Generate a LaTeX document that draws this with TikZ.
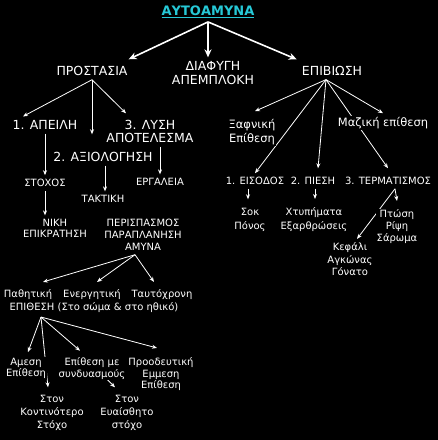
\documentclass[tikz,border=0pt]{standalone}
\usepackage{fontspec}
\setmainfont{DejaVu Sans}
\usepackage{xcolor}
\usetikzlibrary{arrows.meta,backgrounds}
\definecolor{titlecyan}{RGB}{38,200,214}

\begin{document}
\begin{tikzpicture}[
    x=1pt, y=-1pt,
    lbl/.style={text=white, fill=black, inner sep=1pt, outer ysep=3pt, align=center},
    toplbl/.style={lbl, font=\fontsize{13}{15}\selectfont\bfseries, text=titlecyan},
    headlbl/.style={lbl, font=\fontsize{12.5}{14}\selectfont},
    midlbl/.style={lbl, font=\fontsize{11.5}{14}\selectfont},
    leaflbl/.style={lbl, font=\fontsize{10}{12.5}\selectfont},
    link/.style={white, line width=0.8pt, -{Stealth[length=5pt,width=4pt]}},
    biglink/.style={white, line width=1.6pt, -{Stealth[length=8pt,width=7pt]}}
]
    \useasboundingbox (0,0) rectangle (438,440);

    % Title
    \node[toplbl] (root) at (208,12) {\underline{ΑΥΤΟΑΜΥΝΑ}};

    % First level
    \node[headlbl] (prot) at (92,71) {ΠΡΟΣΤΑΣΙΑ};
    \node[headlbl] (diaf) at (213,73) {ΔΙΑΦΥΓΗ\\ΑΠΕΜΠΛΟΚΗ};
    \node[headlbl] (epib) at (332,71) {ΕΠΙΒΙΩΣΗ};

    % Protection branch
    \node[headlbl] (apeili) at (45,125) {1. ΑΠΕΙΛΗ};
    \node[headlbl] (axiol) at (103,157) {2. ΑΞΙΟΛΟΓΗΣΗ};
    \node[headlbl, font=\fontsize{12.5}{13}\selectfont] (lysi) at (150,131.5) {3. ΛΥΣΗ\\ΑΠΟΤΕΛΕΣΜΑ};
    \node[leaflbl] (stoxos) at (45,183) {ΣΤΟΧΟΣ};
    \node[leaflbl, font=\fontsize{10}{11}\selectfont] (niki) at (55,228.5) {ΝΙΚΗ\\ΕΠΙΚΡΑΤΗΣΗ};
    \node[leaflbl] (taktiki) at (103,199) {ΤΑΚΤΙΚΗ};
    \node[leaflbl] (ergal) at (160,182) {ΕΡΓΑΛΕΙΑ};
    \node[leaflbl, font=\fontsize{10}{12}\selectfont] (perisp) at (143,235) {ΠΕΡΙΣΠΑΣΜΟΣ\\ΠΑΡΑΠΛΑΝΗΣΗ\\ΑΜΥΝΑ};
    \node[leaflbl] (pathit) at (28,295) {Παθητική};
    \node[leaflbl] (energ) at (92,295) {Ενεργητική};
    \node[leaflbl] (tafto) at (162,295) {Ταυτόχρονη};
    \node[leaflbl] (epith) at (94,308) {ΕΠΙΘΕΣΗ (Στο σώμα \& στο ηθικό)};
    \node[leaflbl, font=\fontsize{10}{11.5}\selectfont] (amesi) at (26,368.5) {Αμεση\\Επίθεση};
    \node[leaflbl, font=\fontsize{10}{11.5}\selectfont] (syndy) at (92,368.5) {Επίθεση με\\συνδυασμούς};
    \node[leaflbl, font=\fontsize{10}{11.5}\selectfont] (proodeft) at (161,374.5) {Προοδευτική\\Εμμεση\\Επίθεση};
    \node[leaflbl, font=\fontsize{10}{13}\selectfont] (kontin) at (52,413) {Στον\\Κοντινότερο\\Στόχο};
    \node[leaflbl, font=\fontsize{10}{13}\selectfont] (evaisth) at (127,413) {Στον\\Ευαίσθητο\\στόχο};

    % Survival branch
    \node[midlbl] (xafn) at (252,132) {Ξαφνική\\Επίθεση};
    \node[midlbl] (maz) at (383,123) {Μαζική επίθεση};
    \node[leaflbl] (eisod) at (255,181) {1. ΕΙΣΟΔΟΣ};
    \node[leaflbl] (piesi) at (313,181) {2. ΠΙΕΣΗ};
    \node[leaflbl] (term) at (388,181) {3. ΤΕΡΜΑΤΙΣΜΟΣ};
    \node[leaflbl, font=\fontsize{10}{14}\selectfont] (sok) at (250,220) {Σοκ\\Πόνος};
    \node[leaflbl, font=\fontsize{10}{14}\selectfont] (xtyp) at (314,220) {Χτυπήματα\\Εξαρθρώσεις};
    \node[leaflbl, font=\fontsize{10}{12}\selectfont] (ptosi) at (397,227) {Πτώση\\Ρίψη\\Σάρωμα};
    \node[leaflbl, font=\fontsize{10}{12.5}\selectfont] (kefali) at (350,259.5) {Κεφάλι\\Αγκώνας\\Γόνατο};

    \begin{scope}[on background layer]
        \fill[black] (0,0) rectangle (438,440);

        % Title arrows
        \draw[biglink] (root.south) -- ([yshift=3pt]prot.north east);
        \draw[biglink] (root.south) -- (root.south |- diaf.north);
        \draw[biglink] (root.south) -- ([xshift=-4pt,yshift=3pt]epib.north west);

        % Protection arrows
        \draw[link] (prot.south) -- ([xshift=-22pt]apeili.north);
        \draw[link] (prot.south) -- ([xshift=-11pt,yshift=14pt]axiol.north);
        \draw[link] (prot.south) -- ([xshift=-24pt,yshift=3pt]lysi.north);
        \draw[link] (apeili.south) -- (stoxos.north);
        \draw[link] (stoxos.south) -- (stoxos.south |- niki.north);
        \draw[link] ([xshift=2pt]axiol.south) -- ([xshift=2pt]taktiki.north);
        \draw[link] (ergal.north |- lysi.south) -- (ergal.north);
        \draw[link] ([xshift=-8pt]perisp.south) -- ([xshift=15pt,yshift=4pt]pathit.north);
        \draw[link] ([xshift=-8pt]perisp.south) -- ([xshift=5pt,yshift=4pt]energ.north);
        \draw[link] ([xshift=-8pt]perisp.south) -- ([xshift=-8pt,yshift=4pt]tafto.north);
        \draw[link] ([xshift=-53pt]epith.south) -- ([xshift=2pt,yshift=2pt]amesi.north);
        \draw[link] ([xshift=-53pt]epith.south) -- ([xshift=-4pt,yshift=4pt]kontin.north);
        \draw[link] ([xshift=-53pt]epith.south) -- ([xshift=-12pt,yshift=3pt]syndy.north);
        \draw[link] ([xshift=-53pt]epith.south) -- ([xshift=-4pt,yshift=6pt]proodeft.north);
        \draw[link] ([xshift=15pt,yshift=4pt]syndy.south) -- ([xshift=-12pt,yshift=4pt]evaisth.north);

        % Survival arrows
        \draw[link] ([xshift=-6pt]epib.south) -- ([xshift=3pt,yshift=4pt]xafn.north);
        \draw[link] ([xshift=-6pt]epib.south) -- (maz.north);
        \draw[link] ([xshift=-6pt]epib.south) -- (eisod.north);
        \draw[link] ([xshift=-6pt]epib.south) -- ([xshift=5pt,yshift=5pt]piesi.north);
        \draw[link] ([xshift=-6pt]epib.south) -- ([yshift=5pt]term.north);
        \draw[link] ([xshift=-7pt]eisod.south) -- ([xshift=-2pt,yshift=5pt]sok.north);
        \draw[link] ([xshift=2pt]piesi.south) -- ([xshift=1pt,yshift=5pt]xtyp.north);
        \draw[link] ([xshift=7pt]term.south) -- ([yshift=5pt]ptosi.north);
        \draw[link] ([xshift=7pt]term.south) -- ([xshift=7pt]kefali.north);
    \end{scope}
\end{tikzpicture}
\end{document}
